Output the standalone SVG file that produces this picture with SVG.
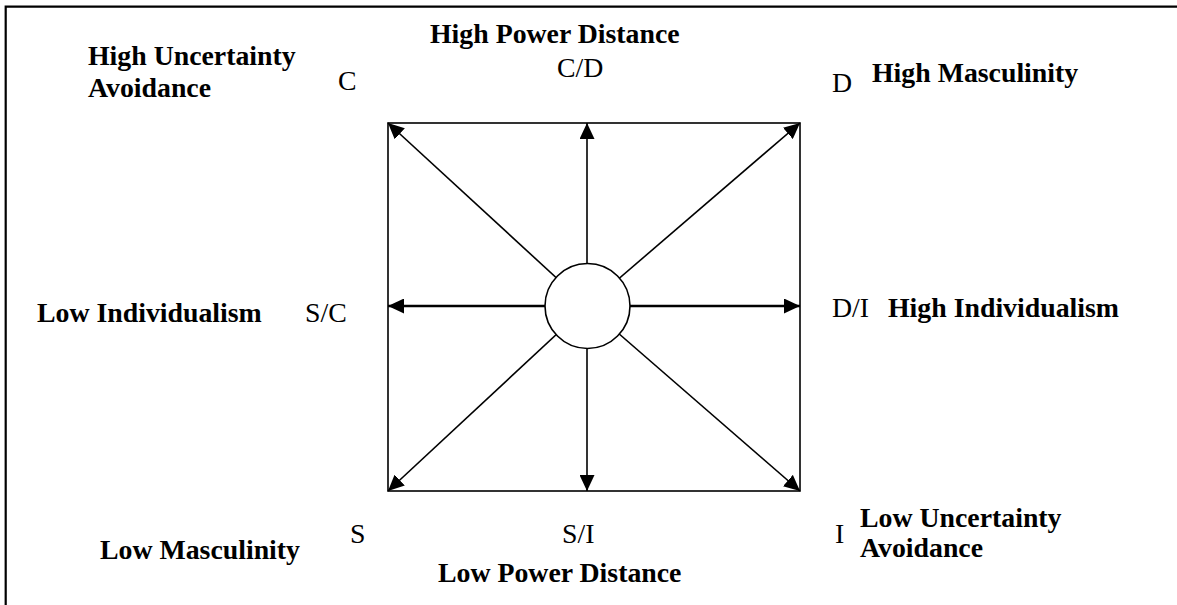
<svg xmlns="http://www.w3.org/2000/svg" width="1177" height="605" viewBox="0 0 1177 605">
<style>
text{font-family:"Liberation Serif","Times New Roman",serif;font-size:27.8px;fill:#000}
.b{font-weight:bold}
.ln{stroke:#000;stroke-width:1.6;fill:none}
.hz{stroke:#000;stroke-width:2.6;fill:none}
</style>
<defs>
<marker id="ah" markerUnits="userSpaceOnUse" markerWidth="17" markerHeight="15" refX="16" refY="7.5" orient="auto">
<path d="M0,0 L16,7.5 L0,15 z" fill="#000"/>
</marker>
</defs>
<rect width="1177" height="605" fill="#fff"/>
<path d="M5.7,605 V6.7 H1177" stroke="#000" stroke-width="2.2" fill="none"/>
<g id="square"><rect x="388" y="123" width="412" height="368" class="ln"/></g>
<g id="connectors">
<line x1="587" y1="306" x2="388" y2="123" class="ln" marker-end="url(#ah)"/>
<line x1="587" y1="306" x2="587" y2="123" class="ln" marker-end="url(#ah)"/>
<line x1="587" y1="306" x2="800" y2="123" class="ln" marker-end="url(#ah)"/>
<line x1="587" y1="306" x2="388" y2="306" class="hz" marker-end="url(#ah)"/>
<line x1="587" y1="306" x2="800" y2="306" class="hz" marker-end="url(#ah)"/>
<line x1="587" y1="306" x2="388" y2="491" class="ln" marker-end="url(#ah)"/>
<line x1="587" y1="306" x2="587" y2="491" class="ln" marker-end="url(#ah)"/>
<line x1="587" y1="306" x2="800" y2="491" class="ln" marker-end="url(#ah)"/>
</g>
<g id="center"><circle cx="587.5" cy="306" r="42.5" fill="#fff" stroke="#000" stroke-width="1.6"/></g>
<g id="label-c">
<text class="b" x="88" y="65">High Uncertainty</text>
<text class="b" x="88" y="97">Avoidance</text>
<text x="338" y="90">C</text>
</g>
<g id="label-cd">
<text class="b" x="430" y="43">High Power Distance</text>
<text x="557" y="77">C/D</text>
</g>
<g id="label-d">
<text x="832" y="92">D</text>
<text class="b" x="872" y="82">High Masculinity</text>
</g>
<g id="label-sc">
<text class="b" x="37" y="322">Low Individualism</text>
<text x="305" y="322">S/C</text>
</g>
<g id="label-di">
<text x="832" y="317">D/I</text>
<text class="b" x="888" y="317">High Individualism</text>
</g>
<g id="label-s">
<text x="350" y="543">S</text>
<text class="b" x="100" y="559">Low Masculinity</text>
</g>
<g id="label-si">
<text x="562" y="543">S/I</text>
<text class="b" x="438" y="582">Low Power Distance</text>
</g>
<g id="label-i">
<text x="835" y="543">I</text>
<text class="b" x="860" y="527">Low Uncertainty</text>
<text class="b" x="860" y="557">Avoidance</text>
</g>
</svg>
